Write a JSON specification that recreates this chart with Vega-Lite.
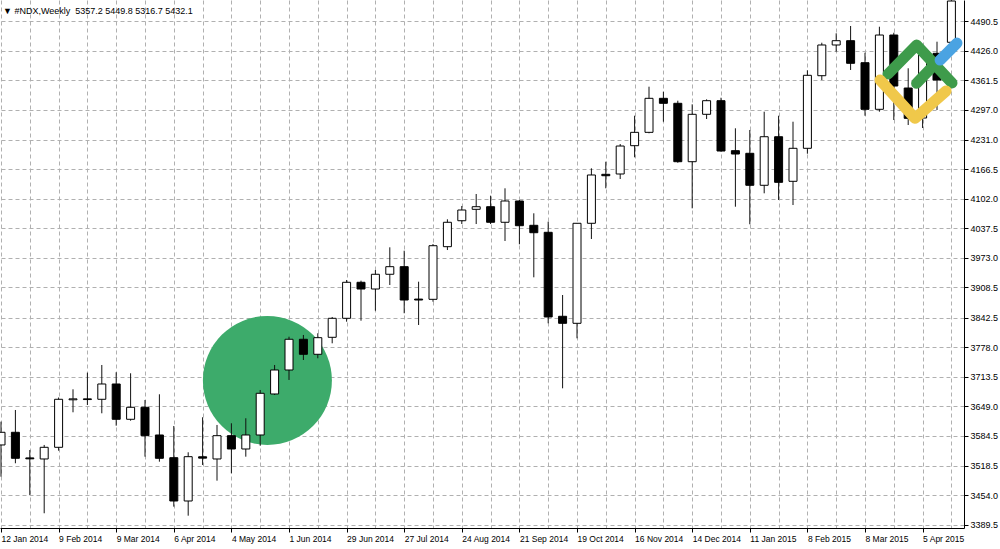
{
  "$schema": "https://vega.github.io/schema/vega-lite/v6.json",
  "width": 964,
  "height": 528,
  "autosize": {"type": "none"},
  "padding": {"left": 0, "top": 0, "right": 36, "bottom": 21},
  "background": "white",
  "title": {
    "text": "▼ #NDX,Weekly\u00a0\u00a05357.2 5449.8 5316.7 5432.1",
    "anchor": "start", "orient": "top", "frame": "group",
    "offset": -23, "dx": 3, "baseline": "alphabetic",
    "font": "Liberation Sans", "fontSize": 9, "fontWeight": "normal", "color": "black"
  },
  "config": {
    "view": {"stroke": null},
    "axis": {
      "labelFont": "Liberation Sans", "labelFontSize": 9, "labelColor": "black",
      "domainColor": "black", "domainWidth": 1, "tickColor": "black", "tickSize": 4,
      "gridColor": "#b0b0b0", "gridDash": [4, 3], "gridWidth": 1, "title": null
    }
  },
  "datasets": {
    "candles": [
      {"date":"2014-01-12","open":3564.3,"high":3615.2,"low":3495.0,"close":3592.0},
      {"date":"2014-01-19","open":3592.0,"high":3640.7,"low":3524.3,"close":3535.2},
      {"date":"2014-01-26","open":3536.0,"high":3553.3,"low":3455.0,"close":3534.0},
      {"date":"2014-02-02","open":3533.7,"high":3564.3,"low":3415.1,"close":3559.2},
      {"date":"2014-02-09","open":3559.2,"high":3668.0,"low":3551.8,"close":3664.1},
      {"date":"2014-02-16","open":3663.0,"high":3685.9,"low":3635.7,"close":3665.0},
      {"date":"2014-02-23","open":3665.0,"high":3722.2,"low":3651.6,"close":3663.5},
      {"date":"2014-03-02","open":3664.1,"high":3739.0,"low":3633.5,"close":3697.5},
      {"date":"2014-03-09","open":3697.5,"high":3723.1,"low":3606.4,"close":3620.4},
      {"date":"2014-03-16","open":3620.4,"high":3720.9,"low":3617.3,"close":3646.6},
      {"date":"2014-03-23","open":3646.6,"high":3662.6,"low":3538.7,"close":3584.6},
      {"date":"2014-03-30","open":3586.1,"high":3675.0,"low":3527.8,"close":3535.2},
      {"date":"2014-04-06","open":3536.5,"high":3605.8,"low":3429.5,"close":3441.9},
      {"date":"2014-04-13","open":3441.9,"high":3548.3,"low":3409.8,"close":3538.7},
      {"date":"2014-04-20","open":3538.5,"high":3624.8,"low":3520.6,"close":3535.5},
      {"date":"2014-04-27","open":3533.7,"high":3608.0,"low":3486.3,"close":3584.6},
      {"date":"2014-05-04","open":3584.6,"high":3611.7,"low":3502.4,"close":3555.5},
      {"date":"2014-05-11","open":3555.5,"high":3622.6,"low":3538.7,"close":3586.1},
      {"date":"2014-05-18","open":3586.1,"high":3684.4,"low":3562.7,"close":3677.2},
      {"date":"2014-05-25","open":3675.7,"high":3739.0,"low":3673.5,"close":3728.1},
      {"date":"2014-06-01","open":3728.1,"high":3800.8,"low":3706.3,"close":3795.2},
      {"date":"2014-06-08","open":3795.2,"high":3804.6,"low":3749.9,"close":3762.4},
      {"date":"2014-06-15","open":3762.4,"high":3808.3,"low":3753.7,"close":3798.7},
      {"date":"2014-06-22","open":3799.5,"high":3843.9,"low":3786.4,"close":3841.0},
      {"date":"2014-06-29","open":3841.0,"high":3924.7,"low":3833.6,"close":3919.7},
      {"date":"2014-07-06","open":3919.7,"high":3923.2,"low":3835.8,"close":3905.0},
      {"date":"2014-07-13","open":3905.0,"high":3946.5,"low":3857.6,"close":3937.2},
      {"date":"2014-07-20","open":3937.2,"high":3996.1,"low":3913.8,"close":3953.8},
      {"date":"2014-07-27","open":3953.8,"high":3988.7,"low":3852.0,"close":3881.0},
      {"date":"2014-08-03","open":3883.0,"high":3921.0,"low":3826.4,"close":3881.0},
      {"date":"2014-08-10","open":3882.5,"high":4003.3,"low":3877.3,"close":3999.6},
      {"date":"2014-08-17","open":3997.5,"high":4057.3,"low":3990.2,"close":4050.8},
      {"date":"2014-08-24","open":4054.2,"high":4086.4,"low":4047.0,"close":4077.6},
      {"date":"2014-08-31","open":4079.1,"high":4112.6,"low":4047.0,"close":4084.8},
      {"date":"2014-09-07","open":4084.8,"high":4108.9,"low":4047.0,"close":4050.8},
      {"date":"2014-09-14","open":4050.8,"high":4125.0,"low":4009.9,"close":4097.3},
      {"date":"2014-09-21","open":4097.3,"high":4099.5,"low":4002.7,"close":4043.3},
      {"date":"2014-09-28","open":4044.2,"high":4070.4,"low":3930.6,"close":4028.0},
      {"date":"2014-10-05","open":4028.9,"high":4052.1,"low":3830.1,"close":3843.9},
      {"date":"2014-10-12","open":3845.4,"high":3891.9,"low":3688.1,"close":3830.1},
      {"date":"2014-10-19","open":3830.1,"high":4049.2,"low":3797.3,"close":4048.6},
      {"date":"2014-10-26","open":4048.6,"high":4168.7,"low":4014.3,"close":4154.1},
      {"date":"2014-11-02","open":4155.6,"high":4183.1,"low":4125.0,"close":4152.5},
      {"date":"2014-11-09","open":4156.3,"high":4221.8,"low":4145.3,"close":4217.4},
      {"date":"2014-11-16","open":4218.1,"high":4283.6,"low":4192.7,"close":4247.3},
      {"date":"2014-11-23","open":4247.3,"high":4347.0,"low":4245.2,"close":4321.6},
      {"date":"2014-11-30","open":4321.6,"high":4336.0,"low":4270.5,"close":4310.7},
      {"date":"2014-12-07","open":4310.7,"high":4316.4,"low":4180.9,"close":4183.1},
      {"date":"2014-12-14","open":4183.1,"high":4308.5,"low":4081.3,"close":4286.7},
      {"date":"2014-12-21","open":4286.7,"high":4319.4,"low":4276.4,"close":4316.4},
      {"date":"2014-12-28","open":4316.4,"high":4322.9,"low":4205.0,"close":4206.5},
      {"date":"2015-01-04","open":4207.2,"high":4256.1,"low":4084.8,"close":4199.9},
      {"date":"2015-01-11","open":4201.5,"high":4252.4,"low":4046.4,"close":4131.6},
      {"date":"2015-01-18","open":4131.6,"high":4292.4,"low":4114.1,"close":4237.7},
      {"date":"2015-01-25","open":4237.7,"high":4283.6,"low":4099.5,"close":4138.1},
      {"date":"2015-02-01","open":4140.3,"high":4270.5,"low":4088.5,"close":4212.4},
      {"date":"2015-02-08","open":4212.4,"high":4382.8,"low":4200.6,"close":4371.9},
      {"date":"2015-02-15","open":4371.0,"high":4443.1,"low":4361.6,"close":4438.1},
      {"date":"2015-02-22","open":4438.1,"high":4463.6,"low":4423.4,"close":4447.5},
      {"date":"2015-03-01","open":4447.5,"high":4479.6,"low":4383.5,"close":4398.1},
      {"date":"2015-03-08","open":4399.4,"high":4421.2,"low":4283.6,"close":4297.6},
      {"date":"2015-03-15","open":4297.6,"high":4478.0,"low":4292.4,"close":4459.9},
      {"date":"2015-03-22","open":4459.9,"high":4464.9,"low":4274.2,"close":4348.5},
      {"date":"2015-03-29","open":4344.1,"high":4387.2,"low":4263.3,"close":4277.9},
      {"date":"2015-04-05","open":4278.6,"high":4438.1,"low":4256.7,"close":4416.2},
      {"date":"2015-04-12","open":4419.9,"high":4445.3,"low":4296.1,"close":4361.6},
      {"date":"2015-04-19","open":4444.0,"high":4536.0,"low":4438.1,"close":4534.2}
    ],
    "highlight": [
      {"date":"2014-05-21T12:00:00Z","price":3705.2}
    ],
    "logo": [
      {"part":"green1","date":"2015-03-19T05:00:00Z","price":4374.7},
      {"part":"green1","date":"2015-04-02T02:00:00Z","price":4438.1},
      {"part":"green1","date":"2015-04-19T07:00:00Z","price":4355.0},
      {"part":"green2","date":"2015-04-02T02:00:00Z","price":4354.4},
      {"part":"green2","date":"2015-04-12T00:00:00Z","price":4400.9},
      {"part":"blue","date":"2015-04-13T12:00:00Z","price":4405.3},
      {"part":"blue","date":"2015-04-21T17:00:00Z","price":4442.4},
      {"part":"yellow","date":"2015-03-15T07:00:00Z","price":4361.6},
      {"part":"yellow","date":"2015-04-01T07:00:00Z","price":4277.9},
      {"part":"yellow","date":"2015-04-16T10:00:00Z","price":4337.6}
    ]
  },
  "encoding": {
    "x": {
      "field": "date", "type": "temporal",
      "scale": {
        "type": "utc", "nice": false, "padding": 0,
        "domain": [
          {"year":2014,"month":1,"date":11,"hours":12,"minutes":20,"utc":true},
          {"year":2015,"month":4,"date":25,"hours":3,"utc":true}
        ]
      },
      "axis": {
        "grid": true, "title": null,
        "values": [
          {"year":2014,"month":1,"date":12,"utc":true},
          {"year":2014,"month":1,"date":26,"utc":true},
          {"year":2014,"month":2,"date":9,"utc":true},
          {"year":2014,"month":2,"date":23,"utc":true},
          {"year":2014,"month":3,"date":9,"utc":true},
          {"year":2014,"month":3,"date":23,"utc":true},
          {"year":2014,"month":4,"date":6,"utc":true},
          {"year":2014,"month":4,"date":20,"utc":true},
          {"year":2014,"month":5,"date":4,"utc":true},
          {"year":2014,"month":5,"date":18,"utc":true},
          {"year":2014,"month":6,"date":1,"utc":true},
          {"year":2014,"month":6,"date":15,"utc":true},
          {"year":2014,"month":6,"date":29,"utc":true},
          {"year":2014,"month":7,"date":13,"utc":true},
          {"year":2014,"month":7,"date":27,"utc":true},
          {"year":2014,"month":8,"date":10,"utc":true},
          {"year":2014,"month":8,"date":24,"utc":true},
          {"year":2014,"month":9,"date":7,"utc":true},
          {"year":2014,"month":9,"date":21,"utc":true},
          {"year":2014,"month":10,"date":5,"utc":true},
          {"year":2014,"month":10,"date":19,"utc":true},
          {"year":2014,"month":11,"date":2,"utc":true},
          {"year":2014,"month":11,"date":16,"utc":true},
          {"year":2014,"month":11,"date":30,"utc":true},
          {"year":2014,"month":12,"date":14,"utc":true},
          {"year":2014,"month":12,"date":28,"utc":true},
          {"year":2015,"month":1,"date":11,"utc":true},
          {"year":2015,"month":1,"date":25,"utc":true},
          {"year":2015,"month":2,"date":8,"utc":true},
          {"year":2015,"month":2,"date":22,"utc":true},
          {"year":2015,"month":3,"date":8,"utc":true},
          {"year":2015,"month":3,"date":22,"utc":true},
          {"year":2015,"month":4,"date":5,"utc":true},
          {"year":2015,"month":4,"date":19,"utc":true}
        ],
        "labelExpr": "(datum.value - 1389484800000) % 2419200000 === 0 ? utcFormat(datum.value, '%-d %b %Y') : ''",
        "tickOpacity": {"condition": {"test": "(datum.value - 1389484800000) % 2419200000 === 0", "value": 1}, "value": 0},
        "labelAlign": "left", "labelPadding": 2, "labelFontSize": 8.5,
        "labelOverlap": false, "labelBound": false, "labelFlush": false
      }
    }
  },
  "layer": [
    {
      "data": {"name": "highlight"},
      "mark": {"type": "point", "filled": true, "shape": "circle", "size": 16641, "color": "#3dab6b", "opacity": 1, "strokeWidth": 0, "clip": true},
      "encoding": {
        "y": {
          "field": "price", "type": "quantitative",
          "scale": {"domain": [3382.9, 4536.4], "zero": false, "nice": false, "padding": 0},
          "axis": {"orient": "right", "grid": true, "format": ".1f", "labelPadding": 2, "title": null,
            "values": [3389.5,3454.0,3518.5,3584.5,3649.0,3713.5,3778.0,3842.5,3908.5,3973.0,4037.5,4102.0,4166.5,4231.0,4297.0,4361.5,4426.0,4490.5]}
        }
      }
    },
    {
      "data": {"name": "candles"},
      "mark": {"type": "rule", "color": "#111111", "strokeWidth": 1, "clip": true},
      "encoding": {
        "y": {
          "field": "low", "type": "quantitative",
          "scale": {"domain": [3382.9, 4536.4], "zero": false, "nice": false, "padding": 0},
          "axis": {"orient": "right", "grid": true, "format": ".1f", "labelPadding": 2, "title": null,
            "values": [3389.5,3454.0,3518.5,3584.5,3649.0,3713.5,3778.0,3842.5,3908.5,3973.0,4037.5,4102.0,4166.5,4231.0,4297.0,4361.5,4426.0,4490.5]}
        },
        "y2": {"field": "high"}
      }
    },
    {
      "data": {"name": "candles"},
      "mark": {"type": "bar", "size": 8, "stroke": "black", "strokeWidth": 1, "clip": true},
      "encoding": {
        "y": {
          "field": "open", "type": "quantitative",
          "scale": {"domain": [3382.9, 4536.4], "zero": false, "nice": false, "padding": 0},
          "axis": {"orient": "right", "grid": true, "format": ".1f", "labelPadding": 2, "title": null,
            "values": [3389.5,3454.0,3518.5,3584.5,3649.0,3713.5,3778.0,3842.5,3908.5,3973.0,4037.5,4102.0,4166.5,4231.0,4297.0,4361.5,4426.0,4490.5]}
        },
        "y2": {"field": "close"},
        "fill": {"condition": {"test": "datum.close < datum.open", "value": "black"}, "value": "white"}
      }
    },
    {
      "data": {"name": "logo"},
      "mark": {"type": "line", "strokeWidth": 11, "strokeCap": "round", "strokeJoin": "round", "clip": true},
      "encoding": {
        "y": {
          "field": "price", "type": "quantitative",
          "scale": {"domain": [3382.9, 4536.4], "zero": false, "nice": false, "padding": 0},
          "axis": {"orient": "right", "grid": true, "format": ".1f", "labelPadding": 2, "title": null,
            "values": [3389.5,3454.0,3518.5,3584.5,3649.0,3713.5,3778.0,3842.5,3908.5,3973.0,4037.5,4102.0,4166.5,4231.0,4297.0,4361.5,4426.0,4490.5]}
        },
        "color": {
          "field": "part", "type": "nominal", "legend": null,
          "scale": {"domain": ["green1", "green2", "blue", "yellow"], "range": ["#3e9b4b", "#3e9b4b", "#4aa3e2", "#f0c84a"]}
        }
      }
    }
  ]
}
